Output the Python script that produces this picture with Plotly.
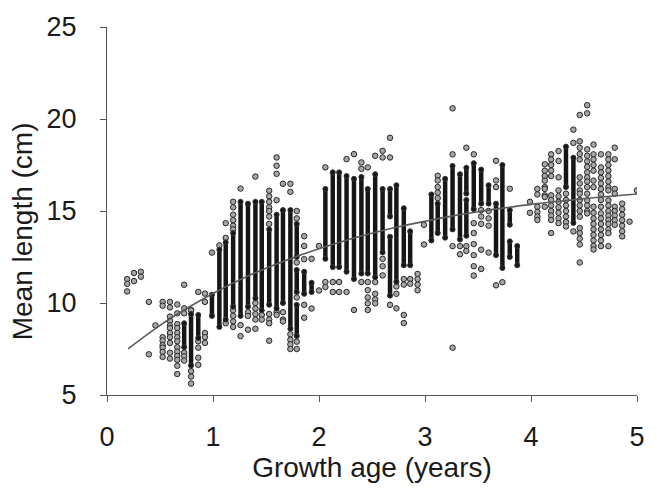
import plotly.graph_objects as go

# ---- data ----
# each column: growth age, solid runs of overlapping points (top, bottom), isolated points
col_age = [0.19, 0.255, 0.32, 0.395, 0.457, 0.525, 0.594, 0.663, 0.728, 0.793, 0.861, 0.924,
           0.99, 1.06, 1.12, 1.19, 1.26, 1.33, 1.40, 1.46, 1.53, 1.60, 1.66, 1.73, 1.79, 1.86, 1.93, 2.0,
           2.06, 2.13, 2.19, 2.26, 2.33, 2.40, 2.46, 2.53, 2.60, 2.67, 2.73, 2.80, 2.86, 2.93, 2.99,
           3.06, 3.12, 3.19, 3.26, 3.33, 3.39, 3.46, 3.53, 3.60, 3.67, 3.73, 3.80, 3.87,
           3.99, 4.06, 4.13, 4.19, 4.26, 4.33, 4.40, 4.46, 4.53, 4.59, 4.66, 4.73, 4.79, 4.86, 4.93, 5.0]

col_runs = [
    [], [], [], [], [], [], [], [],
    [(8.9, 7.6)],
    [(9.4, 6.6)],
    [(9.35, 8.1)],
    [],
    [(10.45, 9.3)],
    [(12.9, 8.7)],
    [(13.3, 9.1)],
    [(13.8, 9.8)],
    [(15.5, 9.3)],
    [(15.4, 9.8)],
    [(15.5, 10.25)],
    [(15.5, 9.6)],
    [(14.0, 9.9)],
    [(14.8, 9.7)],
    [(15.05, 10.0)],
    [(15.05, 8.6)],
    [(14.3, 12.5), (11.8, 10.6), (9.9, 8.2)],
    [(11.7, 10.5)],
    [(11.1, 10.6)],
    [],
    [(16.2, 12.4)],
    [(17.1, 11.95)],
    [(17.1, 11.95)],
    [(16.9, 11.7)],
    [(16.75, 11.3)],
    [(16.85, 11.6)],
    [(16.2, 11.6)],
    [(17.0, 11.4)],
    [(16.2, 12.75)],
    [(16.2, 14.7), (13.6, 10.4)],
    [(16.4, 11.15)],
    [(15.15, 12.05)],
    [(13.9, 12.05)],
    [],
    [],
    [(15.9, 13.4)],
    [(15.4, 13.8)],
    [(16.75, 13.55)],
    [(17.45, 14.0)],
    [(17.0, 13.45)],
    [(17.35, 15.95), (15.6, 13.65)],
    [(17.6, 15.1)],
    [(17.25, 15.4)],
    [(16.4, 15.4)],
    [(15.4, 12.6)],
    [(17.5, 11.9)],
    [(15.05, 14.25), (13.35, 12.5)],
    [(13.1, 12.05)],
    [], [], [], [], [],
    [(18.5, 16.3)],
    [(17.9, 14.35)],
    [], [], [], [], [], [], [], [], [],
]

col_points = [
    [11.3, 11.04, 10.63],
    [11.63, 11.19],
    [11.7, 11.43],
    [10.06, 7.21],
    [8.78],
    [10.06, 9.85, 8.14, 7.96, 7.71, 7.57, 7.34, 7.07],
    [10.06, 9.76, 9.26, 9.03, 8.78, 8.64, 8.37, 8.14, 7.83, 7.3, 6.98],
    [9.92, 9.44, 8.85, 8.64, 8.37, 8.14, 7.92, 7.6, 7.35, 7.12, 6.91, 6.59, 6.14],
    [10.99, 9.71, 9.44, 7.3, 7.1, 6.87],
    [9.62, 9.6, 6.3, 6.0, 5.62],
    [10.6, 7.92, 7.57, 7.03, 6.64],
    [10.51, 10.06, 8.37, 8.14, 7.83],
    [12.74],
    [13.13],
    [14.34, 13.54, 8.9],
    [15.5, 15.2, 14.8, 14.5, 14.2, 14.0, 9.6, 9.3, 9.0, 8.7],
    [16.22, 8.8, 8.2],
    [9.5, 9.3, 8.55],
    [16.87, 10.0, 9.7, 9.4, 9.1, 8.6],
    [9.35, 9.1],
    [16.1, 15.8, 15.5, 15.2, 15.0, 14.7, 14.3, 9.4, 9.1, 8.9, 7.95],
    [17.91, 17.46, 17.02, 15.59, 9.5, 9.35],
    [16.48, 9.5, 9.1, 9.0],
    [16.48, 16.04, 8.3, 8.0, 7.75, 7.5],
    [15.0, 14.6, 12.2, 10.3, 7.9, 7.5],
    [13.63, 13.1, 12.38, 9.9, 9.2],
    [12.4, 9.7],
    [13.1, 10.68],
    [17.37, 11.14, 10.87],
    [11.14, 10.6],
    [11.14, 10.6],
    [17.82, 10.6],
    [18.09, 9.62],
    [17.64, 17.29, 11.14],
    [17.37, 11.14, 10.7, 10.3, 9.98, 9.62],
    [18.0, 11.14, 10.5, 10.2, 9.98],
    [18.27, 17.91, 12.4, 12.0, 11.5],
    [18.98, 17.91, 9.9],
    [10.9, 10.5, 9.71],
    [11.3, 11.0, 9.35, 8.91],
    [11.3, 11.05],
    [11.58, 11.3, 11.0, 10.69],
    [14.25, 13.18],
    [],
    [16.92, 16.66, 16.3, 16.0, 15.7],
    [],
    [20.58, 18.08, 13.09, 7.57],
    [13.09, 12.65],
    [18.44, 13.09, 12.83],
    [18.08, 14.34, 13.8, 13.2, 12.6, 12.0, 11.49],
    [15.05, 14.7, 14.3, 12.9, 11.85],
    [15.0, 14.6, 14.2, 12.74],
    [17.73, 16.66, 16.3, 10.96],
    [11.13],
    [16.21],
    [],
    [15.5, 14.9],
    [16.2, 15.9, 15.23, 14.95, 14.7, 14.51],
    [17.54, 17.19, 16.9, 16.65, 16.3, 16.2, 15.85, 15.76, 15.23],
    [18.08, 17.8, 17.5, 17.2, 16.9, 15.85, 15.6, 15.3, 15.0, 14.75, 14.51, 13.8],
    [18.26, 17.72, 16.83, 16.12, 15.8, 15.5, 15.2, 14.9, 14.6, 14.34],
    [15.94, 15.6, 15.3, 15.0, 14.7, 14.4, 14.16],
    [19.42, 18.7, 13.89],
    [20.22, 18.79, 18.44, 18.1, 17.8, 16.83, 16.5, 16.12, 15.94, 15.6, 15.3, 15.0, 14.69, 14.07, 13.8, 13.5, 13.18, 12.2],
    [20.75, 20.31, 18.35, 18.0, 17.7, 17.4, 17.1, 16.83, 16.6, 16.3, 15.94, 15.58, 15.3, 15.0, 14.87],
    [18.61, 18.08, 17.8, 17.5, 17.19, 16.65, 16.3, 15.23, 14.9, 14.6, 14.3, 14.0, 13.7, 13.4, 13.1, 12.91],
    [18.08, 17.37, 17.1, 16.8, 16.5, 16.2, 15.9, 15.6, 15.23, 14.87, 14.6, 14.3, 14.0, 13.7, 13.4, 13.09],
    [18.08, 17.8, 17.5, 17.2, 16.9, 16.6, 16.3, 16.12, 15.58, 15.3, 15.0, 14.75, 14.51, 14.3, 14.0, 13.8, 13.09],
    [18.44, 17.81, 16.2, 15.94, 15.23, 15.0, 14.75, 14.5, 14.25],
    [15.4, 15.1, 14.8, 14.5, 14.2, 13.9, 13.62],
    [14.42],
    [16.12],
]

# fitted growth curve
curve_age = [0.2, 0.5, 0.75, 1.0, 1.25, 1.5, 1.75, 2.0, 2.25, 2.5, 2.75, 3.0, 3.25, 3.5, 3.75, 4.0, 4.25, 4.5, 4.75, 5.0]
curve_len = [7.51, 8.78, 9.70, 10.52, 11.25, 11.89, 12.45, 12.95, 13.40, 13.79, 14.14, 14.44, 14.72, 14.96, 15.17, 15.36, 15.52, 15.67, 15.80, 15.92]

x_ticks = [0, 1, 2, 3, 4, 5]
y_ticks = [5, 10, 15, 20, 25]

x_title = "Growth age (years)"
y_title = "Mean length (cm)"

# ---- build traces ----
run_x, run_y = [], []
for a, runs in zip(col_age, col_runs):
    for top, bot in runs:
        run_x += [a, a, None]
        run_y += [top, bot, None]

pt_x, pt_y = [], []
for a, pts in zip(col_age, col_points):
    for v in pts:
        pt_x.append(a)
        pt_y.append(v)

fig = go.Figure()
fig.add_trace(go.Scatter(
    x=pt_x, y=pt_y, mode="markers",
    marker=dict(symbol="circle", size=5.5, color="#a6a6a6",
                line=dict(color="#262626", width=1)),
    showlegend=False, hoverinfo="skip"))
fig.add_trace(go.Scatter(
    x=run_x, y=run_y, mode="lines+markers",
    line=dict(color="#161616", width=4.5),
    marker=dict(symbol="circle", size=5, color="#161616",
                line=dict(color="#333333", width=1)),
    showlegend=False, hoverinfo="skip", connectgaps=False))
fig.add_trace(go.Scatter(
    x=curve_age, y=curve_len, mode="lines", line_shape="spline",
    line=dict(color="#5a5a5a", width=1.6),
    showlegend=False, hoverinfo="skip"))

font_family = "Liberation Sans, Arial, sans-serif"
text_color = "#1a1a1a"
fig.update_layout(
    width=657, height=488,
    margin=dict(l=107, r=14, t=24, b=90),
    paper_bgcolor="white", plot_bgcolor="white",
    font=dict(family=font_family, color=text_color),
    xaxis=dict(
        range=[0, 5], tickvals=x_ticks, ticktext=[str(t) for t in x_ticks],
        showline=True, linecolor="#555", linewidth=1,
        ticks="outside", ticklen=6, tickcolor="#555",
        showgrid=False, zeroline=False,
        tickfont=dict(size=27, family=font_family, color=text_color),
        ticklabelstandoff=12,
        title=dict(text=x_title, font=dict(size=28, family=font_family, color=text_color), standoff=4),
    ),
    yaxis=dict(
        range=[5, 25], tickvals=y_ticks, ticktext=[str(t) for t in y_ticks],
        showline=True, linecolor="#555", linewidth=1,
        ticks="outside", ticklen=6, tickcolor="#555",
        showgrid=False, zeroline=False,
        tickfont=dict(size=27, family=font_family, color=text_color),
        ticklabelstandoff=18,
    ),
    annotations=[dict(
        text=y_title, textangle=-90, showarrow=False,
        xref="paper", yref="paper", x=-0.159, y=0.444,
        xanchor="center", yanchor="middle",
        font=dict(size=28, family=font_family, color=text_color),
    )],
)

fig.write_html("out.html")
